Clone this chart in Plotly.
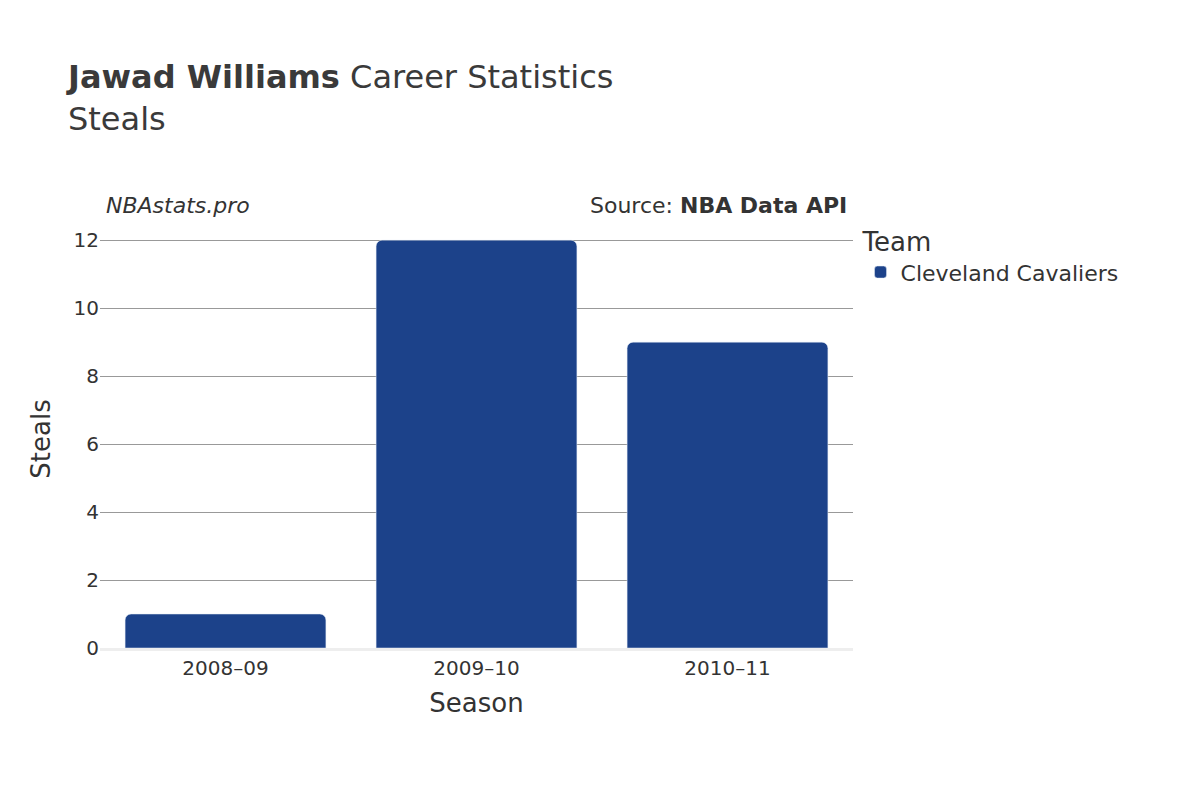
import plotly.graph_objects as go

seasons = ["2008–09", "2009–10", "2010–11"]
steals = [1, 12, 9]
team = "Cleveland Cavaliers"

fig = go.Figure()
fig.add_trace(go.Bar(x=seasons, y=steals, name=team, marker_color="#1c428a",
                     marker_cornerradius=6, width=0.8))

fig.update_layout(
    width=1200, height=800,
    font=dict(family="DejaVu Sans", color="#333", size=20),
    paper_bgcolor="white", plot_bgcolor="white",
    title=dict(text="<b>Jawad Williams</b> Career Statistics<br>Steals",
               x=0.05, y=0.9, font=dict(size=32, color="#3a3a3a")),
    margin=dict(l=92, r=355, t=222, b=160),
    legend=dict(title=dict(text="Team", font=dict(size=26)), x=1.01, y=1.03,
                font=dict(size=22)),
    showlegend=True,
    xaxis=dict(title=dict(text="Season", font=dict(size=26)), showline=True,
               linecolor="#eee", linewidth=3),
    yaxis=dict(title=dict(text="Steals", font=dict(size=26)), gridcolor="#999",
               range=[0, 12.3], dtick=2, zeroline=False),
    annotations=[
        dict(text="<i>NBAstats.pro</i>", xref="paper", yref="paper", x=0.005, y=1.025,
             xanchor="left", yanchor="bottom", showarrow=False, font=dict(size=22)),
        dict(text="Source: <b>NBA Data API</b>", xref="paper", yref="paper", x=0.995, y=1.025,
             xanchor="right", yanchor="bottom", showarrow=False, font=dict(size=22)),
    ],
)
fig.write_html("out.html")
